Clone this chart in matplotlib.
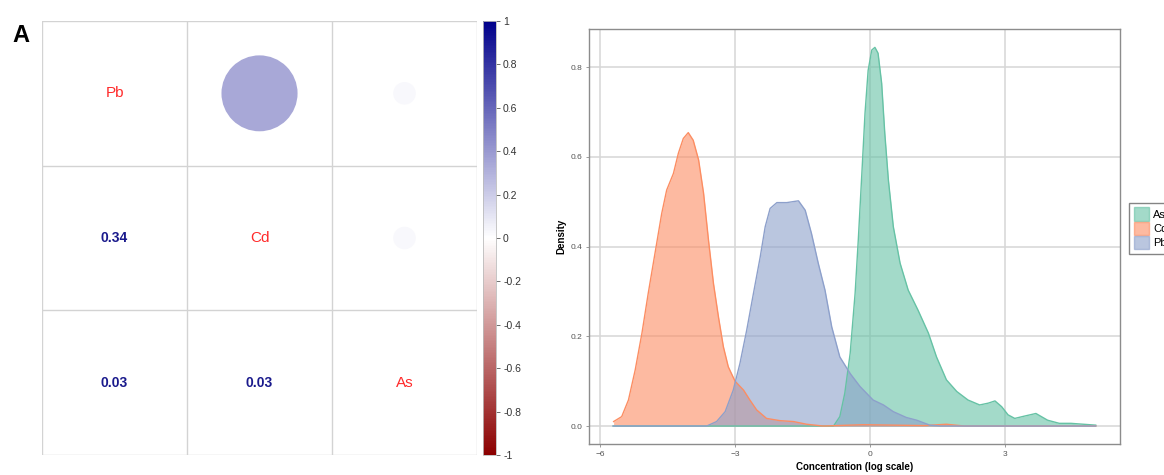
import numpy as np
import matplotlib
matplotlib.use('Agg')
import matplotlib.pyplot as plt
from matplotlib.colors import LinearSegmentedColormap, Normalize
from matplotlib.patches import Circle, Patch
from matplotlib.cm import ScalarMappable

plt.rcParams['font.family'] = ['Liberation Sans', 'DejaVu Sans']

# correlation panel
elements = ['Pb', 'Cd', 'As']
r_pb_cd = 0.34
r_pb_as = 0.03
r_cd_as = 0.03
cbar_ticks = [-1, -0.8, -0.6, -0.4, -0.2, 0, 0.2, 0.4, 0.6, 0.8, 1]

# density panel
as_x = [-5.71, -0.81, -0.67, -0.56, -0.44, -0.33, -0.26, -0.18, -0.11, -0.04, 0.04, 0.11,
        0.18, 0.26, 0.33, 0.41, 0.52, 0.67, 0.85, 1.07, 1.30, 1.48, 1.70, 1.93, 2.18,
        2.44, 2.63, 2.78, 2.93, 3.07, 3.22, 3.43, 3.69, 3.95, 4.21, 4.47, 5.02]
as_y = [0.0, 0.0, 0.021, 0.073, 0.162, 0.296, 0.414, 0.563, 0.697, 0.793, 0.838, 0.844,
        0.831, 0.764, 0.652, 0.548, 0.444, 0.363, 0.303, 0.258, 0.207, 0.154, 0.103, 0.077, 0.058,
        0.047, 0.051, 0.056, 0.043, 0.025, 0.017, 0.022, 0.028, 0.013, 0.006, 0.006, 0.002]
cd_x = [-5.70, -5.52, -5.37, -5.22, -5.07, -4.93, -4.78, -4.63, -4.52, -4.37, -4.26, -4.15,
        -4.04, -3.93, -3.81, -3.70, -3.59, -3.48, -3.37, -3.26, -3.15, -3.00, -2.81, -2.67,
        -2.52, -2.30, -2.00, -1.70, -1.41, -1.04, -0.15, 1.2, 1.7, 2.1, 5.02]
cd_y = [0.010, 0.021, 0.058, 0.125, 0.207, 0.296, 0.385, 0.474, 0.526, 0.563, 0.608, 0.641,
        0.654, 0.637, 0.593, 0.519, 0.414, 0.318, 0.244, 0.177, 0.132, 0.100, 0.080, 0.058,
        0.036, 0.017, 0.012, 0.010, 0.004, 0.0, 0.003, 0.001, 0.004, 0.0, 0.0]
pb_x = [-5.71, -3.63, -3.41, -3.22, -3.04, -2.89, -2.74, -2.59, -2.44, -2.33, -2.22, -2.07,
        -1.85, -1.59, -1.44, -1.30, -1.15, -1.00, -0.85, -0.67, -0.44, -0.22, 0.07, 0.30,
        0.52, 0.81, 1.04, 1.33, 1.56, 5.02]
pb_y = [0.0, 0.0, 0.010, 0.032, 0.080, 0.140, 0.214, 0.296, 0.377, 0.444, 0.485, 0.498,
        0.498, 0.502, 0.481, 0.429, 0.363, 0.303, 0.221, 0.154, 0.117, 0.088, 0.058, 0.047,
        0.032, 0.019, 0.013, 0.002, 0.0, 0.0]

fig = plt.figure(figsize=(11.64, 4.75), dpi=100)

cmap = LinearSegmentedColormap.from_list('rdbu', ['#8B0000', '#FFFFFF', '#00008B'])
norm = Normalize(-1, 1)

corr = np.eye(3)
corr[0, 1] = corr[1, 0] = r_pb_cd
corr[0, 2] = corr[2, 0] = r_pb_as
corr[1, 2] = corr[2, 1] = r_cd_as

ax1 = fig.add_axes([0.0361, 0.0421, 0.3737, 0.9137])
ax1.set_xlim(0, 3)
ax1.set_ylim(3, 0)
for k in range(4):
    ax1.plot([k, k], [0, 3], color='#D3D3D3', lw=1, zorder=1)
    ax1.plot([0, 3], [k, k], color='#D3D3D3', lw=1, zorder=1)
for i in range(3):
    for j in range(3):
        cx, cy = j + 0.5, i + 0.5
        if i == j:
            ax1.text(cx, cy, elements[i], color='#FF2A2A', fontsize=11,
                     ha='center', va='center')
        elif j > i:
            rad = 0.45 * np.sqrt(abs(corr[i, j]))
            ax1.add_patch(Circle((cx, cy), rad, facecolor=cmap(norm(corr[i, j])),
                                 edgecolor='none', zorder=2))
        else:
            ax1.text(cx, cy, f'{corr[i, j]:.2f}', color='#1A1A8C', fontsize=10,
                     fontweight='bold', ha='center', va='center')
ax1.axis('off')

cax = fig.add_axes([0.4150, 0.0421, 0.0112, 0.9137])
cb = fig.colorbar(ScalarMappable(norm=norm, cmap=cmap), cax=cax)
cb.set_ticks(cbar_ticks)
cb.set_ticklabels([f'{t:g}' for t in cbar_ticks])
cb.outline.set_edgecolor('#BBBBBB')
cb.outline.set_linewidth(0.6)
cax.tick_params(length=3, width=0.6, color='#555555', pad=2, labelsize=7.5,
                labelcolor='#333333')

fig.text(0.0105, 0.925, 'A', fontsize=17, fontweight='bold', ha='left', va='center')

# density panel
ax2 = fig.add_axes([0.5063, 0.0653, 0.4559, 0.8737])
series = [('As', as_x, as_y, '#66C2A5'),
          ('Cd', cd_x, cd_y, '#FC8D62'),
          ('Pb', pb_x, pb_y, '#8DA0CB')]
handles = []
for name, xs, ys, col in series:
    ax2.fill_between(xs, ys, color=col, alpha=0.6, lw=0, zorder=2)
    ax2.plot(xs, ys, color=col, lw=1.0, zorder=3, solid_joinstyle='round')
    handles.append(Patch(facecolor=col, alpha=0.6, edgecolor=col, lw=1.0, label=name))

ax2.set_xlim(-6.24, 5.56)
ax2.set_ylim(-0.040, 0.885)
ax2.set_xticks([-6, -3, 0, 3])
ax2.set_yticks([0.0, 0.2, 0.4, 0.6, 0.8])
ax2.set_yticklabels(['0.0', '0.2', '0.4', '0.6', '0.8'])
ax2.grid(True, color='#D6D6D6', lw=1.1, zorder=0)
ax2.set_axisbelow(True)
for s in ax2.spines.values():
    s.set_edgecolor('#8C8C8C')
    s.set_linewidth(1.0)
ax2.tick_params(length=2, width=0.6, color='#8C8C8C', labelsize=6, labelcolor='#555555', pad=3)
ax2.set_xlabel('Concentration (log scale)', fontsize=7, fontweight='bold', labelpad=3)
ax2.set_ylabel('Density', fontsize=7, fontweight='bold', labelpad=3)

fig.legend(handles=handles, loc='upper left', bbox_to_anchor=(0.9700, 0.5726),
           fontsize=8, frameon=True, edgecolor='#666666', fancybox=False,
           handlelength=1.4, handleheight=1.45, labelspacing=0.1,
           borderpad=0.4, handletextpad=0.35, borderaxespad=0)

fig.savefig('out.png', dpi=100)
